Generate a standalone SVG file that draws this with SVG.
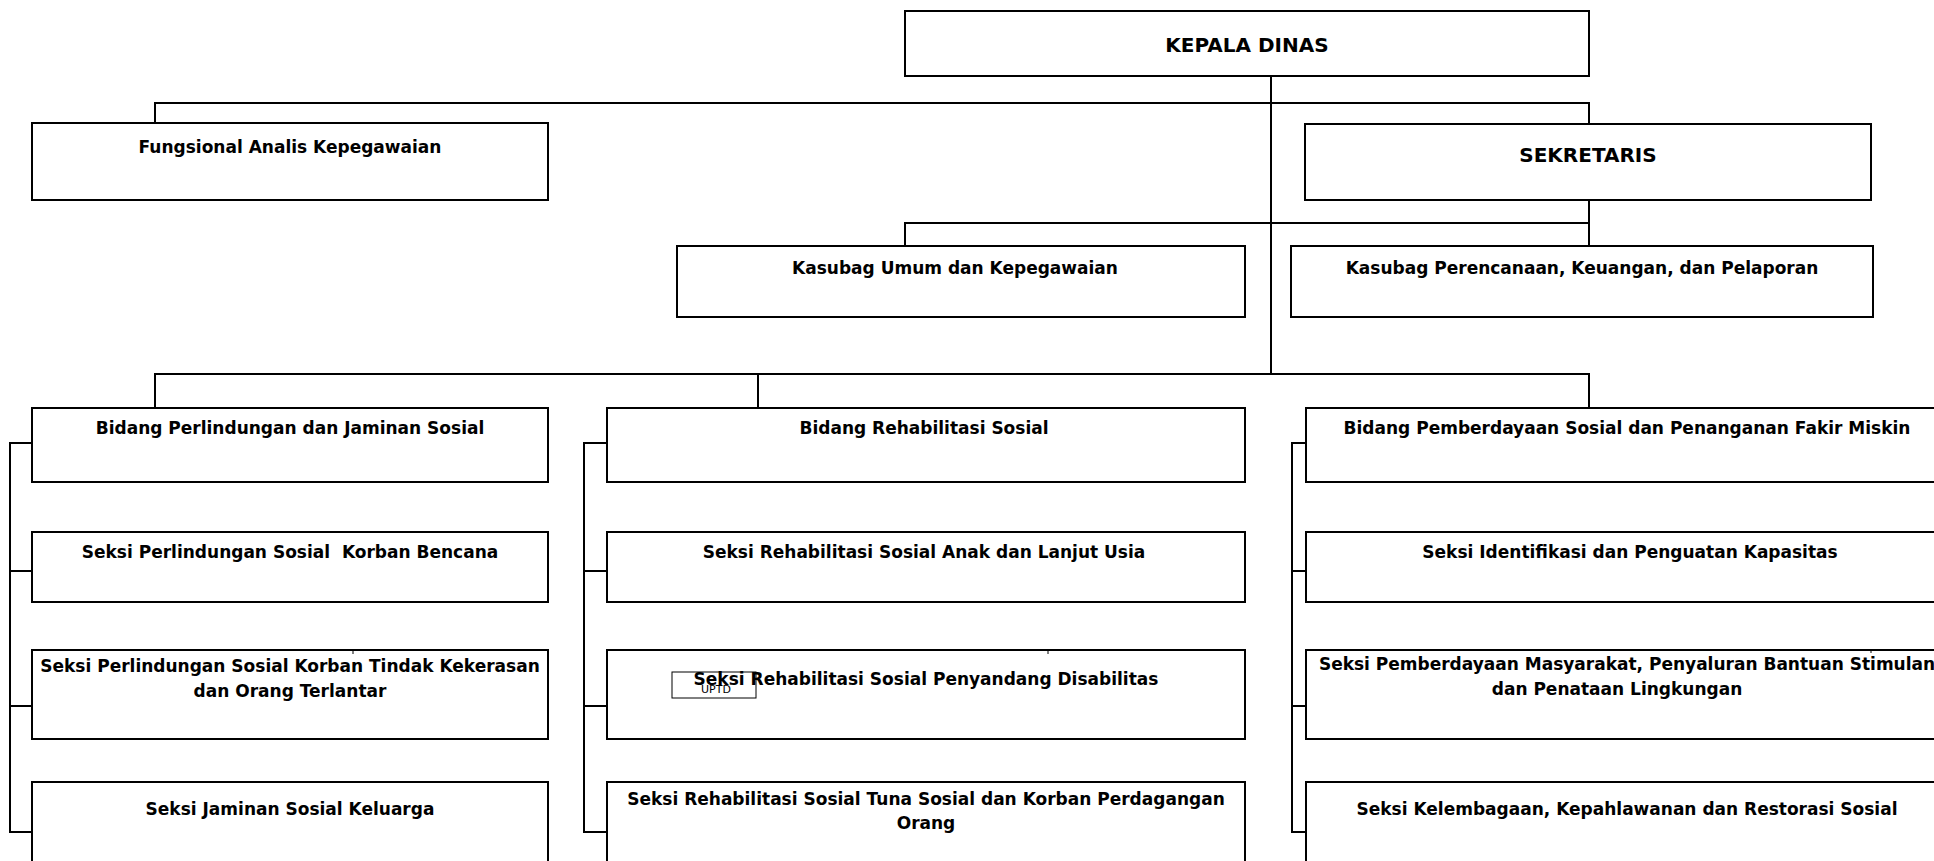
<svg xmlns="http://www.w3.org/2000/svg" width="1934" height="861" viewBox="0 0 1934 861">
<style>
.box{fill:#fff;stroke:#000;stroke-width:2}
.c{fill:none;stroke:#000;stroke-width:2}
.t{font-family:"DejaVu Sans","Liberation Sans",sans-serif;font-weight:bold;font-size:17px;text-anchor:middle;fill:#000}
.h{font-size:20px}
.s{font-family:"DejaVu Sans","Liberation Sans",sans-serif;font-size:11px;text-anchor:middle;fill:#000}
</style>
<rect width="1934" height="861" fill="#fff"/>
<g id="connectors">
<path class="c" d="M1271 76V374 M155 123V103H1589V124 M1589 200V246 M905 246V223H1589 M155 408V374H1589V408 M758 374V408"/>
<path class="c" d="M32 443H10V832H32 M10 571H32 M10 706H32"/>
<path class="c" d="M607 443H584V832H607 M584 571H607 M584 706H607"/>
<path class="c" d="M1306 443H1292V832H1306 M1292 571H1306 M1292 706H1306"/>
</g>
<g id="kepala-dinas"><rect class="box" x="905" y="11" width="684" height="65"/><text class="t h" x="1247" y="52">KEPALA DINAS</text></g>
<g id="fungsional"><rect class="box" x="32" y="123" width="516" height="77"/><text class="t" x="290" y="153">Fungsional Analis Kepegawaian</text></g>
<g id="sekretaris"><rect class="box" x="1305" y="124" width="566" height="76"/><text class="t h" x="1588" y="162">SEKRETARIS</text></g>
<g id="kasubag-umum"><rect class="box" x="677" y="246" width="568" height="71"/><text class="t" x="955" y="274">Kasubag Umum dan Kepegawaian</text></g>
<g id="kasubag-perencanaan"><rect class="box" x="1291" y="246" width="582" height="71"/><text class="t" x="1582" y="274">Kasubag Perencanaan, Keuangan, dan Pelaporan</text></g>

<g id="bidang-perlindungan"><rect class="box" x="32" y="408" width="516" height="74"/><text class="t" x="290" y="434">Bidang Perlindungan dan Jaminan Sosial</text></g>
<g id="seksi-bencana"><rect class="box" x="32" y="532" width="516" height="70"/><text class="t" x="290" y="558" xml:space="preserve">Seksi Perlindungan Sosial  Korban Bencana</text></g>
<g id="seksi-kekerasan"><rect class="box" x="32" y="650" width="516" height="89"/><text class="t" x="290" y="672">Seksi Perlindungan Sosial Korban Tindak Kekerasan</text><text class="t" x="290" y="697">dan Orang Terlantar</text></g>
<g id="seksi-jaminan"><rect class="box" x="32" y="782" width="516" height="90"/><text class="t" x="290" y="815">Seksi Jaminan Sosial Keluarga</text></g>

<g id="bidang-rehabilitasi"><rect class="box" x="607" y="408" width="638" height="74"/><text class="t" x="924" y="434">Bidang Rehabilitasi Sosial</text></g>
<g id="seksi-anak"><rect class="box" x="607" y="532" width="638" height="70"/><text class="t" x="924" y="558">Seksi Rehabilitasi Sosial Anak dan Lanjut Usia</text></g>
<g id="seksi-disabilitas"><rect class="box" x="607" y="650" width="638" height="89"/><text class="t" x="926" y="685">Seksi Rehabilitasi Sosial Penyandang Disabilitas</text></g>
<g id="uptd"><rect x="672" y="672" width="84" height="26" fill="none" stroke="#000" stroke-width="1"/><text class="s" x="716" y="693">UPTD</text></g>
<g id="seksi-tuna"><rect class="box" x="607" y="782" width="638" height="90"/><text class="t" x="926" y="805">Seksi Rehabilitasi Sosial Tuna Sosial dan Korban Perdagangan</text><text class="t" x="926" y="829">Orang</text></g>

<g id="bidang-pemberdayaan"><rect class="box" x="1306" y="408" width="644" height="74"/><text class="t" x="1627" y="434">Bidang Pemberdayaan Sosial dan Penanganan Fakir Miskin</text></g>
<g id="seksi-identifikasi"><rect class="box" x="1306" y="532" width="644" height="70"/><text class="t" x="1630" y="558">Seksi Identifikasi dan Penguatan Kapasitas</text></g>
<g id="seksi-pemberdayaan"><rect class="box" x="1306" y="650" width="644" height="89"/><text class="t" x="1627" y="670">Seksi Pemberdayaan Masyarakat, Penyaluran Bantuan Stimulan</text><text class="t" x="1617" y="695">dan Penataan Lingkungan</text></g>
<g id="seksi-kelembagaan"><rect class="box" x="1306" y="782" width="644" height="90"/><text class="t" x="1627" y="815">Seksi Kelembagaan, Kepahlawanan dan Restorasi Sosial</text></g>

<g id="marks" stroke="#000" stroke-width="1">
<line x1="353" y1="650" x2="353" y2="654"/>
<line x1="1048" y1="650" x2="1048" y2="654"/>
<line x1="1871" y1="649" x2="1871" y2="653"/>
</g>
</svg>
